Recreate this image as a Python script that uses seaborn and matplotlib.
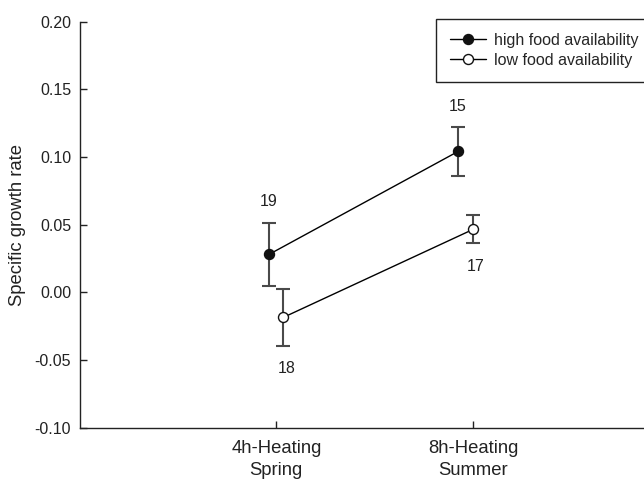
import numpy as np
import pandas as pd
import matplotlib
matplotlib.use("Agg")
import matplotlib.pyplot as plt
import seaborn as sns

# ---- data ----
categories = ["4h-Heating\nSpring", "8h-Heating\nSummer"]
cat_pos = [1, 2]
series_names = ["high food availability", "low food availability"]

high_x = [0.963, 1.923]
high_mean = [0.028, 0.104]
high_err = [0.0235, 0.018]
high_n = [19, 15]

low_x = [1.036, 2.0]
low_mean = [-0.0185, 0.0465]
low_err = [0.021, 0.0104]
low_n = [18, 17]

y_ticks = [-0.10, -0.05, 0.00, 0.05, 0.10, 0.15, 0.20]

# ---- style ----
sns.set_style("ticks")
plt.rcParams["font.family"] = ["Liberation Sans", "DejaVu Sans"]

fig = plt.figure(figsize=(6.44, 4.8), dpi=100)
ax = fig.add_axes([79.5 / 644, (480 - 427.7) / 480, (670 - 79.5) / 644, (427.7 - 21.5) / 480])

df_high = pd.DataFrame({"x": high_x, "y": high_mean})
df_low = pd.DataFrame({"x": low_x, "y": low_mean})

errc = "#4a4a4a"
ax.errorbar(high_x, high_mean, yerr=high_err, fmt="none", ecolor=errc,
            elinewidth=1.5, capsize=4.7, capthick=1.5, zorder=2)
ax.errorbar(low_x, low_mean, yerr=low_err, fmt="none", ecolor=errc,
            elinewidth=1.5, capsize=4.7, capthick=1.5, zorder=2)

sns.lineplot(data=df_high, x="x", y="y", ax=ax, color="black", linewidth=1.0,
             marker="o", markersize=7.2, markerfacecolor="#111111",
             markeredgecolor="#111111", markeredgewidth=1.0, sort=False,
             label=series_names[0], zorder=4)
sns.lineplot(data=df_low, x="x", y="y", ax=ax, color="black", linewidth=1.0,
             marker="o", markersize=7.2, markerfacecolor="white",
             markeredgecolor="#111111", markeredgewidth=1.0, sort=False,
             label=series_names[1], zorder=4)

# sample size labels
for x, m, e, n in zip(high_x, high_mean, high_err, high_n):
    ax.annotate(str(n), (x, m + e), xytext=(0, 15), textcoords="offset points",
                ha="center", va="center", fontsize=11.5, color="#222222")
for x, m, e, n in zip(low_x, low_mean, low_err, low_n):
    ax.annotate(str(n), (x, m - e), xytext=(2, -16.5), textcoords="offset points",
                ha="center", va="center", fontsize=11.5, color="#222222")

ax.set_xlim(0, 3)
ax.set_ylim(-0.1, 0.2)
ax.set_xticks(cat_pos)
ax.set_xticklabels(categories, fontsize=13.3, color="#222222", linespacing=1.38)
ax.set_yticks(y_ticks)
ax.set_yticklabels([f"{v:.2f}" for v in y_ticks], fontsize=11.5, color="#222222")
ax.set_xlabel("")
ax.set_ylabel("Specific growth rate", fontsize=13.3, color="#222222", labelpad=6)

for s in ["top", "right"]:
    ax.spines[s].set_visible(False)
for s in ["left", "bottom"]:
    ax.spines[s].set_color("#222222")
    ax.spines[s].set_linewidth(1.0)
ax.tick_params(axis="both", direction="in", length=5, width=1.0, color="#222222")
ax.tick_params(axis="y", pad=6)
ax.tick_params(axis="x", pad=9)

leg = ax.legend(loc="upper left", bbox_to_anchor=(436 / 644, 1 - 19.3 / 480),
                bbox_transform=fig.transFigure, fontsize=11.5, frameon=True,
                fancybox=False, framealpha=1, edgecolor="#222222",
                handlelength=2.25, handletextpad=0.55, labelspacing=0.32,
                borderpad=0.85, borderaxespad=0)
leg.get_frame().set_linewidth(1.0)

fig.savefig("out.png", dpi=100)
